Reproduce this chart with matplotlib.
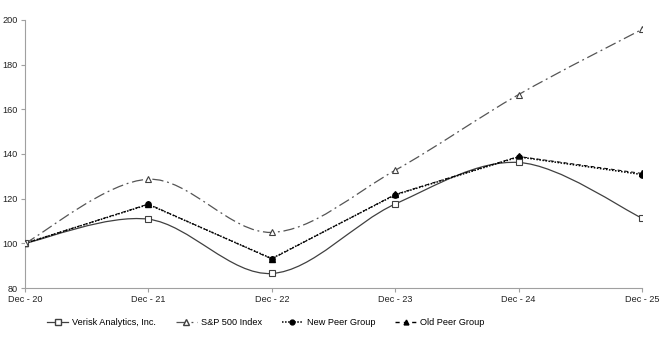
#!/usr/bin/env python3
"""Cumulative total return comparison, Dec-20 to Dec-25."""
import matplotlib
matplotlib.use("Agg")
import matplotlib.pyplot as plt
import numpy as np
from matplotlib.lines import Line2D
from matplotlib.path import Path
from matplotlib.patches import PathPatch

plt.rcParams["font.family"] = ["Liberation Sans", "DejaVu Sans"]

periods = ["Dec - 20", "Dec - 21", "Dec - 22", "Dec - 23", "Dec - 24", "Dec - 25"]
verisk = [100.0, 110.8, 86.5, 117.6, 136.2, 111.3]
sp500 = [100.0, 128.7, 104.9, 132.7, 166.6, 195.8]
new_peer = [100.0, 117.4, 93.2, 121.7, 138.7, 130.8]
old_peer = [100.0, 117.6, 93.0, 121.9, 138.9, 131.3]


def smooth_path(xs, ys):
    # Excel-style smoothed line: cubic Bezier with Catmull-Rom control points
    pts = np.column_stack([xs, ys]).astype(float)
    ext = np.vstack([pts[0], pts, pts[-1]])
    verts = [pts[0]]
    codes = [Path.MOVETO]
    for i in range(len(pts) - 1):
        p0, p1, p2, p3 = ext[i], ext[i + 1], ext[i + 2], ext[i + 3]
        verts += [p1 + (p2 - p0) / 6.0, p2 - (p3 - p1) / 6.0, p2]
        codes += [Path.CURVE4] * 3
    return Path(verts, codes)


fig = plt.figure(figsize=(6.68, 3.37), dpi=100)
ax = fig.add_axes([0.0374, 0.1454, 0.9237, 0.7953])
x = np.arange(len(periods))

grey = "#404040"
sp_style = dict(color="#555555", linewidth=0.9, dashes=(9, 3, 1.5, 3))

# smoothed series
ax.add_patch(PathPatch(smooth_path(x, verisk), facecolor="none",
                       edgecolor=grey, linewidth=0.9, zorder=2))
ax.add_patch(PathPatch(smooth_path(x, sp500), facecolor="none",
                       edgecolor="#555555", linewidth=0.9,
                       linestyle=(0, (9, 3, 1.5, 3)), zorder=2))
ax.plot(x, verisk, linestyle="none", marker="s", markersize=4.2,
        markerfacecolor="white", markeredgecolor=grey, markeredgewidth=0.8, zorder=4)
ax.plot(x, sp500, linestyle="none", marker="^", markersize=5,
        markerfacecolor="white", markeredgecolor=grey, markeredgewidth=0.8, zorder=4)

# straight series
ax.plot(x, old_peer, color="black", linewidth=0.7, dashes=(4, 3),
        marker="^", markersize=4, zorder=3)
ax.plot(x, new_peer, color="black", linewidth=1.1, dashes=(1, 1),
        marker="o", markersize=3.8, zorder=3)

ax.set_xlim(0, len(periods) - 1)
ax.set_ylim(80, 200)
ax.set_xticks(x)
ax.set_xticklabels(periods)
ax.set_yticks(np.arange(80, 201, 20))
ax.tick_params(axis="both", labelsize=6.6, colors="#222222", length=3,
               width=0.8, direction="out", pad=2)
ax.tick_params(axis="both", color="#a0a0a0")
for side in ("top", "right"):
    ax.spines[side].set_visible(False)
for side in ("left", "bottom"):
    ax.spines[side].set_color("#a0a0a0")
    ax.spines[side].set_linewidth(0.8)

handles = [
    Line2D([], [], color=grey, linewidth=0.9, marker="s", markersize=4,
           markerfacecolor="white", markeredgecolor=grey),
    Line2D([], [], marker="^", markersize=4, markerfacecolor="white",
           markeredgecolor=grey, **sp_style),
    Line2D([], [], color="black", linewidth=1.1, dashes=(1, 1),
           marker="o", markersize=3.5),
    Line2D([], [], color="black", linewidth=1.0, dashes=(3, 3),
           marker="^", markersize=3.5),
]
labels = ["Verisk Analytics, Inc.", "S&P 500 Index", "New Peer Group", "Old Peer Group"]
fig.legend(handles, labels, loc="center left", bbox_to_anchor=(0.058, 0.042),
           ncol=4, frameon=False, fontsize=6.6, handlelength=2.3,
           handletextpad=0.4, columnspacing=2.2)

fig.savefig("out.png", dpi=100)
